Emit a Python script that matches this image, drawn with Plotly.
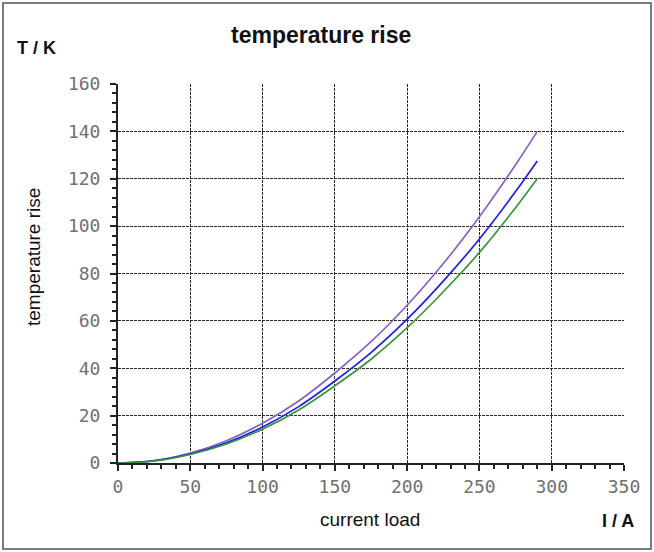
import plotly.graph_objects as go

# current load in A
current = [0, 25, 50, 75, 100, 125, 150, 175, 200, 225, 250, 275, 290]

# temperature rise in K for the three variants
rise_purple = [0, 1.0, 4.2, 9.4, 16.8, 26.2, 38.0, 51.2, 66.6, 84.2, 104.0, 125.9, 140.0]
rise_blue = [0, 0.95, 3.8, 8.5, 15.2, 23.8, 34.6, 46.6, 60.7, 76.8, 94.6, 114.6, 127.5]
rise_green = [0, 0.85, 3.6, 8.0, 14.3, 22.4, 32.6, 43.8, 57.1, 72.3, 88.9, 107.8, 120.0]

x_ticks = [0, 50, 100, 150, 200, 250, 300, 350]
y_ticks = [0, 20, 40, 60, 80, 100, 120, 140, 160]

series = [
    (rise_purple, "#8b5fc9"),
    (rise_blue, "#1f1fe6"),
    (rise_green, "#3a963a"),
]

fig = go.Figure()
for values, color in series:
    fig.add_trace(go.Scatter(
        x=current, y=values, mode="lines",
        line=dict(color=color, width=1.7, shape="spline", smoothing=1.0),
        showlegend=False, hoverinfo="skip",
    ))

tick_font = dict(family="DejaVu Sans Mono", size=18, color="#707070")
grid_common = dict(
    showgrid=True, gridcolor="#2a2a2a", gridwidth=1, griddash="3px,1px",
    showline=True, linecolor="#222", linewidth=2,
    ticks="outside", ticklen=6, tickcolor="#222", tickwidth=1.5,
    tickfont=tick_font, zeroline=False, mirror=False,
)

fig.update_xaxes(
    range=[0, 350], tickvals=x_ticks, ticktext=[str(v) for v in x_ticks],
    minor=dict(dtick=10, ticks="outside", ticklen=4, tickcolor="#222", showgrid=False),
    **grid_common,
)
fig.update_yaxes(
    range=[0, 160], tickvals=y_ticks, ticktext=[str(v) for v in y_ticks],
    minor=dict(dtick=4, ticks="outside", ticklen=4, tickcolor="#222", showgrid=False),
    ticklabelstandoff=6,
    **grid_common,
)

fig.update_layout(
    width=654, height=552,
    margin=dict(l=118, r=30, t=84, b=89),
    plot_bgcolor="white", paper_bgcolor="white",
    font=dict(family="Liberation Sans", color="#111"),
)

annotations = [
    dict(text="<b>temperature rise</b>", x=321, y=35, size=23),
    dict(text="<b>T / K</b>", x=36, y=48, size=18),
    dict(text="<b>I / A</b>", x=618, y=521, size=18),
    dict(text="current load", x=370, y=519, size=19),
]
W, H = 654, 552
L, R, T, B = 118, 30, 84, 89
pw, ph = W - L - R, H - T - B
for a in annotations:
    fig.add_annotation(
        text=a["text"], xref="paper", yref="paper",
        x=(a["x"] - L) / pw, y=(H - B - a["y"]) / ph,
        xanchor="center", yanchor="middle", showarrow=False,
        font=dict(family="Liberation Sans", size=a["size"], color="#111"),
    )
fig.add_annotation(
    text="temperature rise", xref="paper", yref="paper",
    x=(33 - L) / pw, y=(H - B - 257) / ph, textangle=-90,
    xanchor="center", yanchor="middle", showarrow=False,
    font=dict(family="Liberation Sans", size=19, color="#111"),
)

# frame around the whole chart
fig.add_shape(
    type="rect", xref="paper", yref="paper",
    x0=(3 - L) / pw, x1=(651 - L) / pw,
    y0=(H - B - 549) / ph, y1=(H - B - 3) / ph,
    line=dict(color="#7a7a7a", width=2), layer="below",
)

fig.write_html("out.html")
